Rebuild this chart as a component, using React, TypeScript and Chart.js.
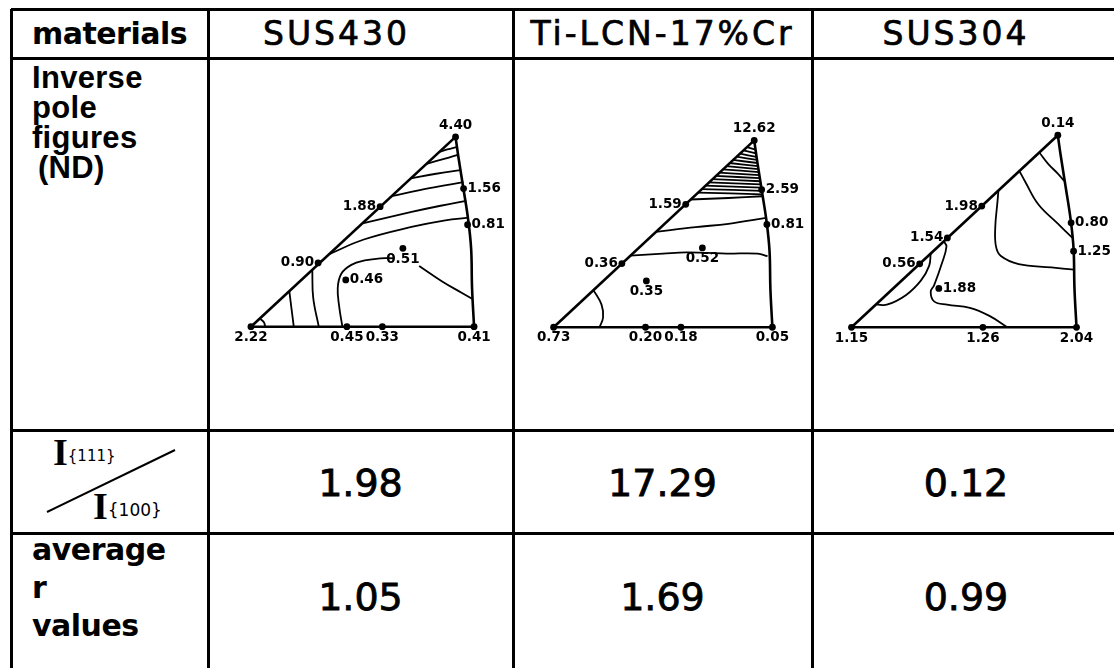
import React, { useEffect, useRef } from "react";
import { Chart, registerables } from "chart.js";

Chart.register(...registerables);

type P = { x: number; y: number };

// ---------- table data ----------
const materialNames = ["SUS430", "Ti-LCN-17%Cr", "SUS304"];
const intensityRatios = ["1.98", "17.29", "0.12"];
const averageRValues = ["1.05", "1.69", "0.99"];

// ---------- standard triangle (normalized: [001]=(0,0), [101]=(1,0), [111]=apex) ----------
const triangleBase: P[] = [{ x: 0, y: 0 }, { x: 1, y: 0 }];
const triangleLeft: P[] = [{ x: 0, y: 0 }, { x: 0.917, y: 0.86 }];
const triangleRight: P[] = [
  { x: 1, y: 0 }, { x: 0.991, y: 0.175 }, { x: 0.987, y: 0.351 }, { x: 0.974, y: 0.482 },
  { x: 0.952, y: 0.627 }, { x: 0.93, y: 0.768 }, { x: 0.917, y: 0.86 },
];

// ---------- SUS430 ----------
const sus430Contours: P[][] = [
  [{ x: 0.842, y: 0.79 }, { x: 0.88, y: 0.803 }, { x: 0.924, y: 0.815 }],
  [{ x: 0.787, y: 0.738 }, { x: 0.87, y: 0.762 }, { x: 0.929, y: 0.78 }],
  [{ x: 0.716, y: 0.672 }, { x: 0.83, y: 0.693 }, { x: 0.94, y: 0.709 }],
  [{ x: 0.631, y: 0.592 }, { x: 0.8, y: 0.628 }, { x: 0.952, y: 0.655 }],
  [{ x: 0.5, y: 0.468 }, { x: 0.72, y: 0.52 }, { x: 0.85, y: 0.548 }, { x: 0.965, y: 0.57 }],
  [{ x: 0.351, y: 0.329 }, { x: 0.506, y: 0.395 }, { x: 0.725, y: 0.453 }, { x: 0.871, y: 0.482 }, { x: 0.973, y: 0.494 }],
  [{ x: 0.41, y: 0 }, { x: 0.396, y: 0.088 }, { x: 0.389, y: 0.175 }, { x: 0.405, y: 0.24 }, { x: 0.45, y: 0.28 }, { x: 0.51, y: 0.3 }, { x: 0.58, y: 0.31 }, { x: 0.64, y: 0.31 }],
  [{ x: 0.754, y: 0.275 }, { x: 0.857, y: 0.205 }, { x: 0.944, y: 0.154 }, { x: 0.995, y: 0.124 }],
  [{ x: 0.039, y: 0.037 }, { x: 0.058, y: 0.02 }, { x: 0.064, y: 0 }],
  [{ x: 0.172, y: 0.161 }, { x: 0.181, y: 0.088 }, { x: 0.192, y: 0 }],
  [{ x: 0.275, y: 0.258 }, { x: 0.279, y: 0.132 }, { x: 0.304, y: 0 }],
];
const sus430Dots: P[] = [
  { x: 0.917, y: 0.86 }, { x: 0.953, y: 0.626 }, { x: 0.971, y: 0.462 }, { x: 0.579, y: 0.544 },
  { x: 0.301, y: 0.289 }, { x: 0.681, y: 0.355 }, { x: 0.425, y: 0.212 },
  { x: 0, y: 0 }, { x: 0.43, y: 0 }, { x: 0.589, y: 0 }, { x: 1, y: 0 },
];
const sus430Labels = ["4.40", "1.56", "0.81", "1.88", "0.90", "0.51", "0.46", "2.22", "0.45", "0.33", "0.41"];
const sus430Align = ["above", "right", "right", "left", "left", "below", "right", "below", "below", "below", "below"];

// ---------- Ti-LCN-17%Cr ----------
const tiContours: P[][] = [
  [{ x: 0.66, y: 0.62 }, { x: 0.955, y: 0.612 }],
  [{ x: 0.676, y: 0.636 }, { x: 0.952, y: 0.628 }],
  [{ x: 0.692, y: 0.652 }, { x: 0.949, y: 0.643 }],
  [{ x: 0.708, y: 0.667 }, { x: 0.947, y: 0.658 }],
  [{ x: 0.724, y: 0.682 }, { x: 0.945, y: 0.672 }],
  [{ x: 0.74, y: 0.697 }, { x: 0.942, y: 0.686 }],
  [{ x: 0.756, y: 0.712 }, { x: 0.94, y: 0.7 }],
  [{ x: 0.772, y: 0.727 }, { x: 0.938, y: 0.714 }],
  [{ x: 0.788, y: 0.742 }, { x: 0.936, y: 0.728 }],
  [{ x: 0.804, y: 0.756 }, { x: 0.934, y: 0.742 }],
  [{ x: 0.82, y: 0.77 }, { x: 0.932, y: 0.756 }],
  [{ x: 0.836, y: 0.785 }, { x: 0.929, y: 0.77 }],
  [{ x: 0.852, y: 0.799 }, { x: 0.927, y: 0.784 }],
  [{ x: 0.868, y: 0.814 }, { x: 0.925, y: 0.8 }],
  [{ x: 0.884, y: 0.829 }, { x: 0.922, y: 0.818 }],
  [{ x: 0.627, y: 0.588 }, { x: 0.799, y: 0.595 }, { x: 0.953, y: 0.603 }],
  [{ x: 0.466, y: 0.439 }, { x: 0.65, y: 0.461 }, { x: 0.799, y: 0.476 }, { x: 0.971, y: 0.503 }],
  [{ x: 0.35, y: 0.33 }, { x: 0.5, y: 0.339 }, { x: 0.606, y: 0.345 }, { x: 0.7, y: 0.342 }, { x: 0.792, y: 0.339 }, { x: 0.933, y: 0.339 }, { x: 0.978, y: 0.327 }],
  [{ x: 0.182, y: 0.171 }, { x: 0.219, y: 0.104 }, { x: 0.226, y: 0.045 }, { x: 0.21, y: 0 }],
];
const tiDots: P[] = [
  { x: 0.917, y: 0.86 }, { x: 0.951, y: 0.633 }, { x: 0.975, y: 0.473 }, { x: 0.604, y: 0.566 },
  { x: 0.312, y: 0.293 }, { x: 0.68, y: 0.365 }, { x: 0.424, y: 0.213 },
  { x: 0, y: 0 }, { x: 0.42, y: 0 }, { x: 0.582, y: 0 }, { x: 1, y: 0 },
];
const tiLabels = ["12.62", "2.59", "0.81", "1.59", "0.36", "0.52", "0.35", "0.73", "0.20", "0.18", "0.05"];
const tiAlign = ["above", "right", "right", "left", "left", "below", "below", "below", "below", "below", "below"];

// ---------- SUS304 ----------
const sus304Contours: P[][] = [
  [{ x: 0.835, y: 0.783 }, { x: 0.874, y: 0.732 }, { x: 0.917, y: 0.688 }, { x: 0.945, y: 0.655 }],
  [{ x: 0.746, y: 0.7 }, { x: 0.772, y: 0.652 }, { x: 0.83, y: 0.551 }, { x: 0.917, y: 0.464 }, { x: 0.982, y: 0.4 }],
  [{ x: 0.653, y: 0.613 }, { x: 0.649, y: 0.565 }, { x: 0.639, y: 0.449 }, { x: 0.642, y: 0.362 }, { x: 0.664, y: 0.319 }, { x: 0.743, y: 0.283 }, { x: 0.888, y: 0.268 }, { x: 0.99, y: 0.258 }],
  [{ x: 0.41, y: 0.385 }, { x: 0.422, y: 0.362 }, { x: 0.403, y: 0.29 }, { x: 0.367, y: 0.188 }, { x: 0.352, y: 0.159 }, { x: 0.367, y: 0.116 }, { x: 0.425, y: 0.101 }, { x: 0.526, y: 0.087 }, { x: 0.613, y: 0.051 }, { x: 0.693, y: 0 }],
  [{ x: 0.352, y: 0.33 }, { x: 0.345, y: 0.275 }, { x: 0.309, y: 0.21 }, { x: 0.243, y: 0.145 }, { x: 0.157, y: 0.101 }, { x: 0.11, y: 0.103 }],
];
const sus304Dots: P[] = [
  { x: 0.917, y: 0.86 }, { x: 0.579, y: 0.543 }, { x: 0.426, y: 0.4 }, { x: 0.303, y: 0.284 },
  { x: 0.976, y: 0.468 }, { x: 0.987, y: 0.341 }, { x: 0.388, y: 0.174 },
  { x: 0, y: 0 }, { x: 0.584, y: 0 }, { x: 1, y: 0 },
];
const sus304Labels = ["0.14", "1.98", "1.54", "0.56", "0.80", "1.25", "1.88", "1.15", "1.26", "2.04"];
const sus304Align = ["above", "left", "left", "left", "right", "right", "right", "below", "below", "below"];

// ---------- layout ----------
const COLS = [11, 208, 513, 812];
const ROWS = [9, 58, 430, 533];
const HEADER_SHIFT = [-24, 0, -10];
const PAGE_W = 1114;
const PAGE_H = 668;

const X_MIN = -0.3, X_MAX = 1.3, Y_MIN = -0.16, Y_MAX = 1.0;

const dotLabelPlugin = {
  id: "dotLabels",
  afterDatasetsDraw(chart: any) {
    const ctx = chart.ctx;
    chart.data.datasets.forEach((ds: any, i: number) => {
      if (!ds.dotLabels) return;
      const meta = chart.getDatasetMeta(i);
      ctx.save();
      ctx.fillStyle = "#000";
      ctx.font = "bold 13.5px 'DejaVu Sans', sans-serif";
      meta.data.forEach((el: any, j: number) => {
        const t = ds.dotLabels[j];
        const a = ds.dotAlign[j];
        const { x, y } = el;
        if (a === "above") {
          ctx.textAlign = "center"; ctx.textBaseline = "bottom";
          ctx.fillText(t, x, y - 5);
        } else if (a === "below") {
          ctx.textAlign = "center"; ctx.textBaseline = "top";
          ctx.fillText(t, x, y + 4);
        } else if (a === "left") {
          ctx.textAlign = "right"; ctx.textBaseline = "middle";
          ctx.fillText(t, x - 4, y);
        } else {
          ctx.textAlign = "left"; ctx.textBaseline = "middle";
          ctx.fillText(t, x + 4, y);
        }
      });
      ctx.restore();
    });
  },
};

function PoleFigure(props: {
  contours: P[][]; dots: P[]; labels: string[]; align: string[];
  originX: number; originY: number; w: number;
}) {
  const ref = useRef<HTMLCanvasElement>(null);
  const { contours, dots, labels, align, originX, originY, w } = props;
  const cw = Math.round((X_MAX - X_MIN) * w);
  const ch = Math.round((Y_MAX - Y_MIN) * w);
  const left = Math.round(originX + X_MIN * w);
  const top = Math.round(originY - Y_MAX * w);

  useEffect(() => {
    if (!ref.current) return;
    const lineDs = (data: P[], width: number, tension: number) => ({
      data, showLine: true, borderColor: "#000", borderWidth: width,
      pointRadius: 0, tension, fill: false,
    });
    const datasets: any[] = [
      lineDs(triangleBase, 2.6, 0),
      lineDs(triangleLeft, 2.6, 0),
      lineDs(triangleRight, 2.6, 0.4),
      ...contours.map((c) => lineDs(c, 1.8, 0.4)),
      {
        data: dots, showLine: false, pointRadius: 3.4, pointBackgroundColor: "#000",
        pointBorderColor: "#000", pointBorderWidth: 0,
        dotLabels: labels, dotAlign: align,
      },
    ];
    const chart = new Chart(ref.current, {
      type: "scatter",
      data: { datasets },
      options: {
        animation: false,
        responsive: false,
        maintainAspectRatio: false,
        layout: { padding: 0 },
        scales: {
          x: { type: "linear", min: X_MIN, max: X_MAX, display: false },
          y: { type: "linear", min: Y_MIN, max: Y_MAX, display: false },
        },
        plugins: { legend: { display: false }, tooltip: { enabled: false } },
        events: [],
      },
      plugins: [dotLabelPlugin],
    } as any);
    return () => chart.destroy();
  }, []);

  return (
    <canvas
      ref={ref}
      width={cw}
      height={ch}
      style={{ position: "absolute", left, top, width: cw, height: ch }}
    />
  );
}

const headFont = "'DejaVu Sans', sans-serif";
const labelFont = "'Liberation Sans', Arial, sans-serif";

export default function App() {
  const line = "#000";
  const hLines = ROWS.map((y, i) => (
    <div key={"h" + i} style={{ position: "absolute", left: COLS[0], top: y - 1, width: PAGE_W - COLS[0], height: 3, background: line }} />
  ));
  const vLines = COLS.map((x, i) => (
    <div key={"v" + i} style={{ position: "absolute", left: x - 1, top: ROWS[0], width: 3, height: PAGE_H - ROWS[0], background: line }} />
  ));
  const colRight = [...COLS.slice(1), PAGE_W + 6];

  const cell = (x0: number, x1: number, y0: number, y1: number, content: React.ReactNode, key: string, extra: any = {}) => (
    <div key={key} style={{
      position: "absolute", left: x0, top: y0, width: x1 - x0, height: y1 - y0,
      display: "flex", alignItems: "center", justifyContent: "center", boxSizing: "border-box", ...extra,
    }}>{content}</div>
  );

  const bigText = { fontFamily: headFont, fontSize: 38, WebkitTextStroke: "0.8px #000" } as any;

  return (
    <div style={{ position: "absolute", left: 0, top: 0, width: PAGE_W, height: PAGE_H, overflow: "hidden", background: "#fff", color: "#000" }}>
      {/* header */}
      {cell(COLS[0], COLS[1], ROWS[0], ROWS[1],
        <span style={{ fontFamily: headFont, fontWeight: 700, fontSize: 30, letterSpacing: -0.5 }}>materials</span>, "hm")}
      {materialNames.map((m, i) =>
        cell(COLS[i + 1], colRight[i + 1], ROWS[0], ROWS[1],
          <span style={{ fontFamily: headFont, fontSize: 33, letterSpacing: 3, WebkitTextStroke: "0.7px #000", position: "relative", left: HEADER_SHIFT[i] }}>{m}</span>, "h" + i))}

      {/* row labels */}
      <div style={{ position: "absolute", left: COLS[0] + 21, top: ROWS[1] + 5, fontFamily: labelFont, fontWeight: 700, fontSize: 31, lineHeight: "30px", letterSpacing: 0.3 }}>
        <div>Inverse</div>
        <div>pole</div>
        <div>figures</div>
        <div style={{ paddingLeft: 6 }}>(ND)</div>
      </div>

      {/* I{111}/I{100} */}
      <div style={{ position: "absolute", left: COLS[0], top: ROWS[2], width: COLS[1] - COLS[0], height: ROWS[3] - ROWS[2] }}>
        <svg width={COLS[1] - COLS[0]} height={ROWS[3] - ROWS[2]} style={{ position: "absolute", left: 0, top: 0 }}>
          <line x1={36} y1={82} x2={164} y2={20} stroke="#000" strokeWidth={2} />
        </svg>
        <div style={{ position: "absolute", left: 42, top: 2, fontFamily: "'Liberation Serif', serif", fontWeight: 700, fontSize: 38, lineHeight: "40px" }}>
          I<span style={{ fontSize: 15, fontWeight: 400, fontFamily: "'DejaVu Sans', sans-serif", verticalAlign: "middle" }}>{"{111}"}</span>
        </div>
        <div style={{ position: "absolute", left: 82, top: 56, fontFamily: "'Liberation Serif', serif", fontWeight: 700, fontSize: 38, lineHeight: "40px" }}>
          I<span style={{ fontSize: 17, fontWeight: 400, fontFamily: "'DejaVu Sans', sans-serif", verticalAlign: "middle" }}>{"{100}"}</span>
        </div>
      </div>

      {/* average r values */}
      <div style={{ position: "absolute", left: COLS[0] + 21, top: ROWS[3] - 2, fontFamily: headFont, fontWeight: 700, fontSize: 30, lineHeight: "38px", letterSpacing: -0.5 }}>
        <div>average</div>
        <div>r</div>
        <div>values</div>
      </div>

      {intensityRatios.map((v, i) =>
        cell(COLS[i + 1], colRight[i + 1], ROWS[2], ROWS[3],
          <span style={bigText}>{v}</span>, "r" + i, { paddingTop: 2 }))}
      {averageRValues.map((v, i) =>
        cell(COLS[i + 1], colRight[i + 1], ROWS[3], PAGE_H,
          <span style={bigText}>{v}</span>, "a" + i, { paddingBottom: 8 }))}

      {hLines}
      {vLines}

      <PoleFigure contours={sus430Contours} dots={sus430Dots} labels={sus430Labels} align={sus430Align} originX={248} originY={330} w={228} />
      <PoleFigure contours={tiContours} dots={tiDots} labels={tiLabels} align={tiAlign} originX={551} originY={330} w={224} />
      <PoleFigure contours={sus304Contours} dots={sus304Dots} labels={sus304Labels} align={sus304Align} originX={849} originY={330} w={230} />
    </div>
  );
}
